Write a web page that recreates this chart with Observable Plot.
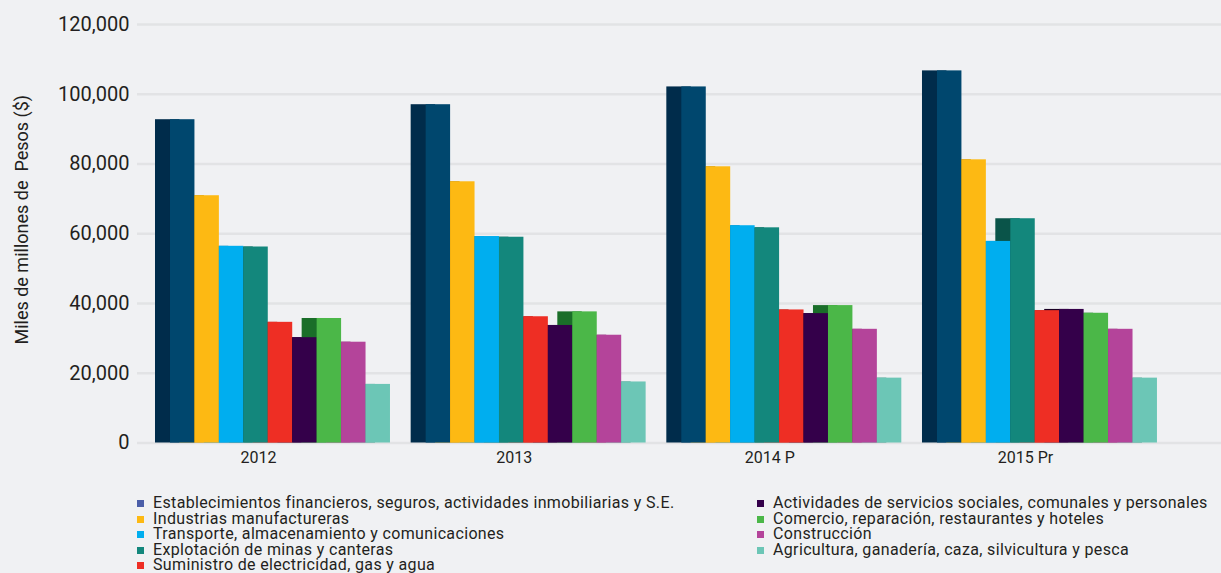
<!DOCTYPE html>
<html>
<head>
<meta charset="utf-8">
<script src="https://cdn.jsdelivr.net/npm/d3@7"></script>
<script src="https://cdn.jsdelivr.net/npm/@observablehq/plot@0.6"></script>
<style>
  html, body { margin: 0; padding: 0; background: #f0f1f3; width: 1221px; height: 573px; overflow: hidden; }
  #chart { position: absolute; left: 0; top: 0; }
  .legend { position: absolute; top: 495px; font-family: Roboto, sans-serif; font-size: 16px; letter-spacing: 0.35px; color: #231f20; line-height: 15.5px; }
  .legend div { white-space: nowrap; height: 15.5px; }
  .legend span.sw { display: inline-block; width: 7px; height: 7px; margin-right: 9px; vertical-align: 1px; }
  .ylab { white-space: pre; }
</style>
</head>
<body>
<div id="chart"></div>
<div class="legend" id="leg1" style="left:137px"></div>
<div class="legend" id="leg2" style="left:757px"></div>
<script>
// ---- data ----
const years = ["2012", "2013", "2014 P", "2015 Pr"];
const series = [
  "Establecimientos financieros, seguros, actividades inmobiliarias y S.E.",
  "Industrias manufactureras",
  "Transporte, almacenamiento y comunicaciones",
  "Explotación de minas y canteras",
  "Suministro de electricidad, gas y agua",
  "Actividades de servicios sociales, comunales y personales",
  "Comercio, reparación, restaurantes y hoteles",
  "Construcción",
  "Agricultura, ganadería, caza, silvicultura y pesca"
];
const financieros   = [92700, 97000, 102100, 106700];
const manufactura   = [70900, 74900, 79200, 81200];
const transporte    = [56400, 59200, 62300, 57800];
const minas         = [56200, 59000, 61700, 64300];
const electricidad  = [34600, 36200, 38150, 37950];
const sociales      = [30200, 33700, 37100, 38300];
const comercio      = [35700, 37600, 39400, 37200];
const construccion  = [28900, 30900, 32600, 32600];
const agricultura   = [16800, 17500, 18600, 18600];
const yTicks = [0, 20000, 40000, 60000, 80000, 100000, 120000];

const values = [financieros, manufactura, transporte, minas, electricidad, sociales, comercio, construccion, agricultura];

// ---- styles ----
const frontColors = ["#00476e", "#fdb913", "#00aeef", "#13877c", "#ee2e24", "#34004a", "#4bb748", "#b4449a", "#6cc6b6"];
const sideColors  = ["#002c4b", "#a87b00", "#00719e", "#0a5449", "#9e1a14", "#1a0024", "#1a6e29", "#7a2366", "#4a8f83"];
const legendColors = ["#4b5ea8", "#fdb913", "#00aeef", "#13877c", "#ee2e24", "#34004a", "#4bb748", "#b4449a", "#6cc6b6"];

const G = 10.46; // group step, in bar widths
const rows = years.flatMap((yr, g) => series.map((s, i) => ({
  year: yr, g, i, series: s, value: values[i][g], pos: g * G + i
})));
const groups = years.map((yr, g) => ({year: yr, center: g * G + series.length / 2}));

const fmt = d3.format(",");

const chart = Plot.plot({
  width: 1221,
  height: 480,
  marginLeft: 137,
  marginRight: 0,
  marginTop: 24,
  marginBottom: 37.5,
  style: {background: "#f0f1f3", fontFamily: "Roboto, sans-serif", color: "#231f20", overflow: "visible"},
  x: {domain: [-1.35, 43.0], axis: null},
  y: {domain: [0, 120000], axis: null},
  marks: [
    Plot.ruleY(yTicks, {stroke: "#e2e3e5", strokeWidth: 2.6}),
    Plot.text(yTicks, {y: d => d, text: d => fmt(d), frameAnchor: "left", textAnchor: "end", dx: -8, fontSize: 20, fill: "#231f20"}),
    Plot.rectY(rows, {x1: "pos", x2: d => d.pos + 1, y1: 0, y2: "value", fill: d => sideColors[d.i], dx: -15}),
    Plot.rectY(rows, {x1: "pos", x2: d => d.pos + 1, y1: 0, y2: "value", fill: d => frontColors[d.i]}),
    Plot.text(groups, {x: "center", text: "year", frameAnchor: "bottom", dy: 20, dx: -22, fontSize: 16, fill: "#231f20"}),
    Plot.text(["Miles de millones de  Pesos ($)"], {frameAnchor: "left", textAnchor: "middle", rotate: -90, dx: -115, dy: -14, fontSize: 18, fill: "#231f20", className: "ylab"})
  ]
});
document.getElementById("chart").appendChild(chart);

// ---- legend ----
function addItems(el, idx) {
  idx.forEach(i => {
    const d = document.createElement("div");
    const sw = document.createElement("span");
    sw.className = "sw";
    sw.style.background = legendColors[i];
    d.appendChild(sw);
    d.appendChild(document.createTextNode(series[i]));
    el.appendChild(d);
  });
}
addItems(document.getElementById("leg1"), [0, 1, 2, 3, 4]);
addItems(document.getElementById("leg2"), [5, 6, 7, 8]);
</script>
</body>
</html>
